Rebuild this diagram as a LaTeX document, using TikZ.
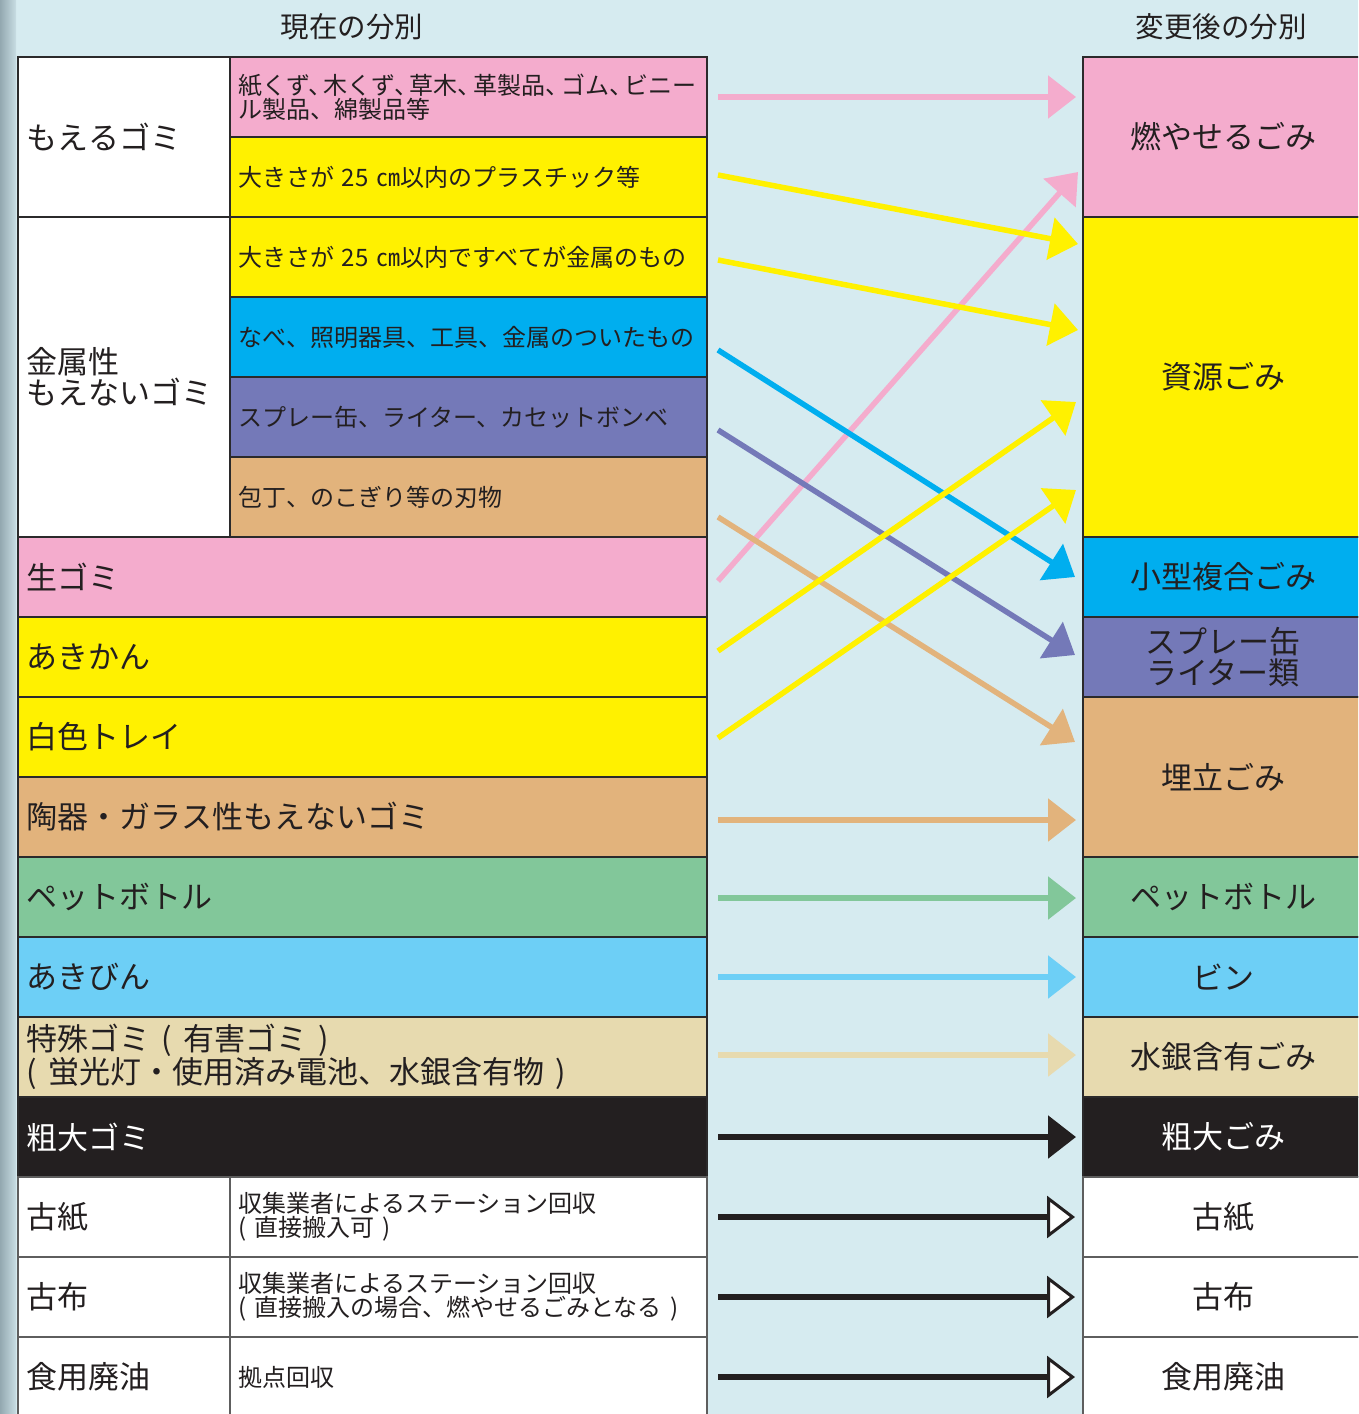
\documentclass[tikz,border=0pt]{standalone}
\usepackage{fontspec}
\setmainfont{Noto Sans CJK JP}
\usetikzlibrary{arrows.meta}
\definecolor{bg}{HTML}{D6EBF0}
\definecolor{ink}{HTML}{231F20}
\definecolor{edge}{HTML}{2B2A2B}
\definecolor{edgegray}{HTML}{5E5E5E}
\definecolor{pinkc}{HTML}{F4ACCD}
\definecolor{yellowc}{HTML}{FFF100}
\definecolor{bluec}{HTML}{00AEEF}
\definecolor{purplec}{HTML}{7479B8}
\definecolor{tanc}{HTML}{E2B37C}
\definecolor{greenc}{HTML}{82C79A}
\definecolor{skyc}{HTML}{6DCFF6}
\definecolor{creamc}{HTML}{E7DAAF}
\definecolor{blackc}{HTML}{231F20}
\definecolor{stripL}{HTML}{93A8B0}
\definecolor{stripR}{HTML}{C8DDE3}
\newcommand\hc{、\kern-0.35em}
\newcommand\gapx{\hspace{0.35em}}
\newcommand\bigf{\fontsize{31pt}{31pt}\selectfont}
\newcommand\midf{\fontsize{24pt}{24pt}\selectfont}
\begin{document}
\begin{tikzpicture}[x=1pt,y=-1pt,
  base/.style={draw=edge, line width=2.5pt, anchor=north west, inner ysep=0pt, outer sep=0pt, text=ink},
  lcell/.style={base, inner xsep=9pt, align=left, font=\bigf},
  mcell/.style={base, inner xsep=8pt, align=left, font=\midf, text width=461pt, minimum height=80pt},
  rcell/.style={base, inner xsep=0pt, align=center, font=\bigf, minimum width=280pt},
  ttl/.style={font=\fontsize{28.5pt}{28.5pt}\selectfont, text=ink},
  conn/.style={line width=5.5pt, -{Triangle[length=28pt,width=42pt]}},
  openconn/.style={line width=5.5pt, draw=blackc, -{Triangle[length=28pt,width=42pt,line width=3pt,fill=white]}}
]
\useasboundingbox (0,0) rectangle (1358,1414);
\clip (0,0) rectangle (1358,1414);
\fill[bg] (0,0) rectangle (1358,1414);
\shade[left color=stripL, right color=stripR] (0,0) rectangle (16,1414);

% titles
\node[ttl] (tl) at (352,27) {現在の分別};
\node[ttl] (tr) at (1221,27) {変更後の分別};

% left table: top groups
\node[lcell, fill=white, text width=194pt, minimum height=160pt] (moeru) at (18,57) {もえるゴミ};
\node[lcell, fill=white, text width=194pt, minimum height=320pt] (kinzoku) at (18,217) {金属性\\もえないゴミ};
\node[mcell, fill=pinkc] (m1) at (230,57) {紙くず\hc 木くず\hc 草木\hc 革製品\hc ゴム\hc ビニー\\ル製品、綿製品等};
\node[mcell, fill=yellowc] (m2) at (230,137) {大きさが 25 ㎝以内のプラスチック等};
\node[mcell, fill=yellowc] (m3) at (230,217) {大きさが 25 ㎝以内ですべてが金属のもの};
\node[mcell, fill=bluec] (m4) at (230,297) {なべ、照明器具、工具、金属のついたもの};
\node[mcell, fill=purplec] (m5) at (230,377) {スプレー缶、ライター、カセットボンベ};
\node[mcell, fill=tanc] (m6) at (230,457) {包丁、のこぎり等の刃物};

% left table: full rows
\node[lcell, fill=pinkc, text width=671pt, minimum height=80pt] (nama) at (18,537) {生ゴミ};
\node[lcell, fill=yellowc, text width=671pt, minimum height=80pt] (akikan) at (18,617) {あきかん};
\node[lcell, fill=yellowc, text width=671pt, minimum height=80pt] (tray) at (18,697) {白色トレイ};
\node[lcell, fill=tanc, text width=671pt, minimum height=80pt] (toki) at (18,777) {陶器・ガラス性もえないゴミ};
\node[lcell, fill=greenc, text width=671pt, minimum height=80pt] (pet) at (18,857) {ペットボトル};
\node[lcell, fill=skyc, text width=671pt, minimum height=80pt] (akibin) at (18,937) {あきびん};
\node[lcell, fill=creamc, text width=671pt, minimum height=80pt] (tokushu) at (18,1017) {特殊ゴミ\gapx(\gapx 有害ゴミ\gapx)\\(\gapx 蛍光灯・使用済み電池、水銀含有物\gapx)};
\node[lcell, fill=blackc, text=white, text width=671pt, minimum height=80pt] (sodai) at (18,1097) {粗大ゴミ};

% left table: bottom rows
\node[lcell, draw=edgegray, fill=white, text width=194pt, minimum height=80pt] (koshi) at (18,1177) {古紙};
\node[mcell, draw=edgegray, fill=white] (koshim) at (230,1177) {収集業者によるステーション回収\\(\gapx 直接搬入可\gapx)};
\node[lcell, draw=edgegray, fill=white, text width=194pt, minimum height=80pt] (kofu) at (18,1257) {古布};
\node[mcell, draw=edgegray, fill=white] (kofum) at (230,1257) {収集業者によるステーション回収\\(\gapx 直接搬入の場合、燃やせるごみとなる\gapx)};
\node[lcell, draw=edgegray, fill=white, text width=194pt, minimum height=80pt] (haiyu) at (18,1337) {食用廃油};
\node[mcell, draw=edgegray, fill=white] (haiyum) at (230,1337) {拠点回収};

% right table
\node[rcell, fill=pinkc, minimum height=160pt] (r1) at (1083,57) {燃やせるごみ};
\node[rcell, fill=yellowc, minimum height=320pt] (r2) at (1083,217) {資源ごみ};
\node[rcell, fill=bluec, minimum height=80pt] (r3) at (1083,537) {小型複合ごみ};
\node[rcell, fill=purplec, minimum height=80pt] (r4) at (1083,617) {スプレー缶\\ライター類};
\node[rcell, fill=tanc, minimum height=160pt] (r5) at (1083,697) {埋立ごみ};
\node[rcell, fill=greenc, minimum height=80pt] (r6) at (1083,857) {ペットボトル};
\node[rcell, fill=skyc, minimum height=80pt] (r7) at (1083,937) {ビン};
\node[rcell, fill=creamc, minimum height=80pt] (r8) at (1083,1017) {水銀含有ごみ};
\node[rcell, fill=blackc, text=white, minimum height=80pt] (r9) at (1083,1097) {粗大ごみ};
\node[rcell, draw=edgegray, fill=white, minimum height=80pt] (r10) at (1083,1177) {古紙};
\node[rcell, draw=edgegray, fill=white, minimum height=80pt] (r11) at (1083,1257) {古布};
\node[rcell, draw=edgegray, fill=white, minimum height=80pt] (r12) at (1083,1337) {食用廃油};

% connector ends
\coordinate (s1) at (718,97);   \coordinate (t1) at (1076,97);
\coordinate (s2) at (718,175);  \coordinate (t2) at (1078,244);
\coordinate (s3) at (718,260);  \coordinate (t3) at (1078,330);
\coordinate (s4) at (718,350);  \coordinate (t4) at (1075,577);
\coordinate (s5) at (718,430);  \coordinate (t5) at (1075,655);
\coordinate (s6) at (718,517);  \coordinate (t6) at (1075,742);
\coordinate (s7) at (718,581);  \coordinate (t7) at (1078,172);
\coordinate (s8) at (718,651);  \coordinate (t8) at (1076,402);
\coordinate (s9) at (718,738);  \coordinate (t9) at (1076,490);
\coordinate (s10) at (718,820); \coordinate (t10) at (1076,820);
\coordinate (s11) at (718,898); \coordinate (t11) at (1076,898);
\coordinate (s12) at (718,977); \coordinate (t12) at (1076,977);
\coordinate (s13) at (718,1055); \coordinate (t13) at (1076,1055);
\coordinate (s14) at (718,1137); \coordinate (t14) at (1076,1137);
\coordinate (s15) at (718,1217); \coordinate (t15) at (1075,1217);
\coordinate (s16) at (718,1297); \coordinate (t16) at (1075,1297);
\coordinate (s17) at (718,1377); \coordinate (t17) at (1075,1377);

% connectors
\draw[conn, pinkc] (s1) -- (t1);
\draw[conn, pinkc] (s7) -- (t7);
\draw[conn, yellowc] (s2) -- (t2);
\draw[conn, yellowc] (s3) -- (t3);
\draw[conn, bluec] (s4) -- (t4);
\draw[conn, purplec] (s5) -- (t5);
\draw[conn, tanc] (s6) -- (t6);
\draw[conn, yellowc] (s8) -- (t8);
\draw[conn, yellowc] (s9) -- (t9);
\draw[conn, tanc] (s10) -- (t10);
\draw[conn, greenc] (s11) -- (t11);
\draw[conn, skyc] (s12) -- (t12);
\draw[conn, creamc] (s13) -- (t13);
\draw[conn, blackc] (s14) -- (t14);
\draw[openconn] (s15) -- (t15);
\draw[openconn] (s16) -- (t16);
\draw[openconn] (s17) -- (t17);
\end{tikzpicture}
\end{document}
